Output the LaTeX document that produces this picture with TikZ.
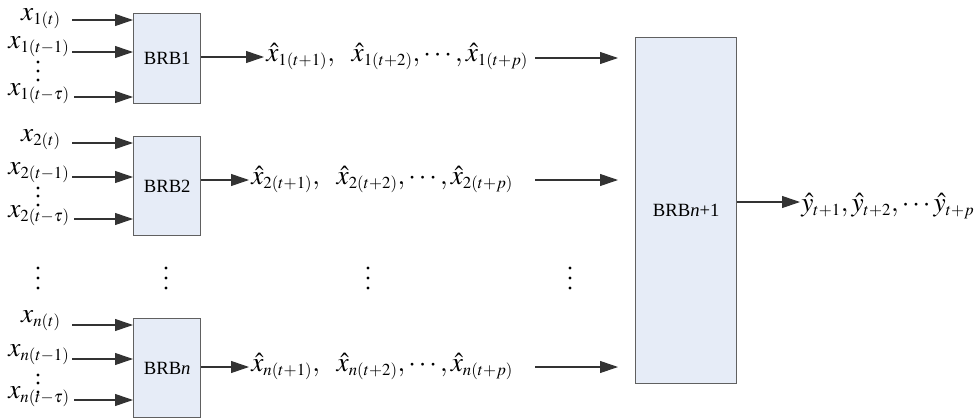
\documentclass[tikz,border=0pt]{standalone}
\usepackage{mathptmx}
\usepackage{fontspec}
\setmainfont{Liberation Serif}
\DeclareMathSizes{20.5}{20.5}{12.6}{10}
\usetikzlibrary{arrows.meta}
\definecolor{boxfill}{RGB}{230,236,247}
\definecolor{boxline}{RGB}{96,96,96}
\tikzset{
  brb/.style={draw=boxline, line width=1.1pt, fill=boxfill, inner sep=0pt, anchor=north west,
    font=\fontsize{14}{16}\selectfont},
  arr/.style={draw=black!80, line width=0.8pt, -{Triangle[length=13.5pt,width=9pt]}},
  lab/.style={inner sep=0pt, font=\fontsize{20.5}{23}\selectfont},
  dotc/.style={fill=black, circle, inner sep=0pt, minimum size=2.6pt}
}
\begin{document}
\begin{tikzpicture}[x=0.75pt,y=-0.75pt]
\useasboundingbox (0,0) rectangle (975,418);
% boxes
\node[brb, minimum width=50.25pt, minimum height=67.5pt] (b1) at (133,13) {BRB1};
\node[brb, minimum width=50.25pt, minimum height=74.25pt] (b2) at (133,136) {BRB2};
\node[brb, minimum width=50.25pt, minimum height=74.25pt] (bn) at (133,318) {BRB\textit{n}};
\node[brb, minimum width=75.75pt, minimum height=259.5pt] (bb) at (635,37) {BRB\textit{n}+1};

% input labels row 1
\node[lab, anchor=base] (l11) at (41,20) {$x_{1(t)}$};
\node[lab, anchor=base] (l12) at (39,48) {$x_{1(t-1)}$};
\node[lab, anchor=base] (l13) at (39,95) {$x_{1(t-\tau)}$};
\coordinate (s11) at (72,20);
\coordinate (s12) at (72,52);
\coordinate (s13) at (74,97);
\draw[arr] (s11) -- (s11 -| b1.west);
\draw[arr] (s12) -- (s12 -| b1.west);
\draw[arr] (s13) -- (s13 -| b1.west);
\node[dotc] (d11) at (38,62) {};
\node[dotc] (d12) at (38,71) {};
\node[dotc] (d13) at (38,80) {};

% input labels row 2
\node[lab, anchor=base] (l21) at (41,141) {$x_{2(t)}$};
\node[lab, anchor=base] (l22) at (39,174) {$x_{2(t-1)}$};
\node[lab, anchor=base] (l23) at (39,217) {$x_{2(t-\tau)}$};
\coordinate (s21) at (72,143);
\coordinate (s22) at (72,177);
\coordinate (s23) at (74,219);
\draw[arr] (s21) -- (s21 -| b2.west);
\draw[arr] (s22) -- (s22 -| b2.west);
\draw[arr] (s23) -- (s23 -| b2.west);
\node[dotc] (d21) at (38,188) {};
\node[dotc] (d22) at (38,196) {};
\node[dotc] (d23) at (38,205) {};

% input labels row n
\node[lab, anchor=base] (ln1) at (41,322) {$x_{n(t)}$};
\node[lab, anchor=base] (ln2) at (39,356) {$x_{n(t-1)}$};
\node[lab, anchor=base] (ln3) at (39,398) {$x_{n(t-\tau)}$};
\coordinate (sn1) at (72,325);
\coordinate (sn2) at (72,359);
\coordinate (sn3) at (74,400);
\draw[arr] (sn1) -- (sn1 -| bn.west);
\draw[arr] (sn2) -- (sn2 -| bn.west);
\draw[arr] (sn3) -- (sn3 -| bn.west);
\node[dotc] (dn1) at (38,375) {};
\node[dotc] (dn2) at (38,383) {};
\node[dotc] (dn3) at (38,392) {};

% outputs
\coordinate (o1) at (264,57);
\coordinate (o2) at (249,180);
\coordinate (on) at (249,367);
\draw[arr] (b1.east |- o1) -- (o1);
\draw[arr] (b2.east |- o2) -- (o2);
\draw[arr] (bn.east |- on) -- (on);
\node[lab, anchor=base west] (h1) at (266,61) {$\hat{x}_{1(t+1)},\ \ \hat{x}_{1(t+2)},\cdots,\hat{x}_{1(t+p)}$};
\node[lab, anchor=base west] (h2) at (251,184) {$\hat{x}_{2(t+1)},\ \ \hat{x}_{2(t+2)},\cdots,\hat{x}_{2(t+p)}$};
\node[lab, anchor=base west] (hn) at (251,371) {$\hat{x}_{n(t+1)},\ \ \hat{x}_{n(t+2)},\cdots,\hat{x}_{n(t+p)}$};

% into big box
\coordinate (p1) at (535,58);
\coordinate (p2) at (535,180);
\coordinate (pn) at (535,367);
\draw[arr] (p1) -- (p1 -| 618,0);
\draw[arr] (p2) -- (p2 -| 618,0);
\draw[arr] (pn) -- (pn -| 618,0);

% final output
\coordinate (yo) at (800,202);
\draw[arr] (bb.east |- yo) -- (yo);
\node[lab, anchor=base west] (yl) at (801,211) {$\hat{y}_{t+1},\hat{y}_{t+2},\cdots\hat{y}_{t+p}$};

% vertical dots
\foreach \xx [count=\i] in {38,166,368,570}{
  \node[dotc] (v\i a) at (\xx,268) {};
  \node[dotc] (v\i b) at (\xx,278) {};
  \node[dotc] (v\i c) at (\xx,288) {};
}
\end{tikzpicture}
\end{document}
